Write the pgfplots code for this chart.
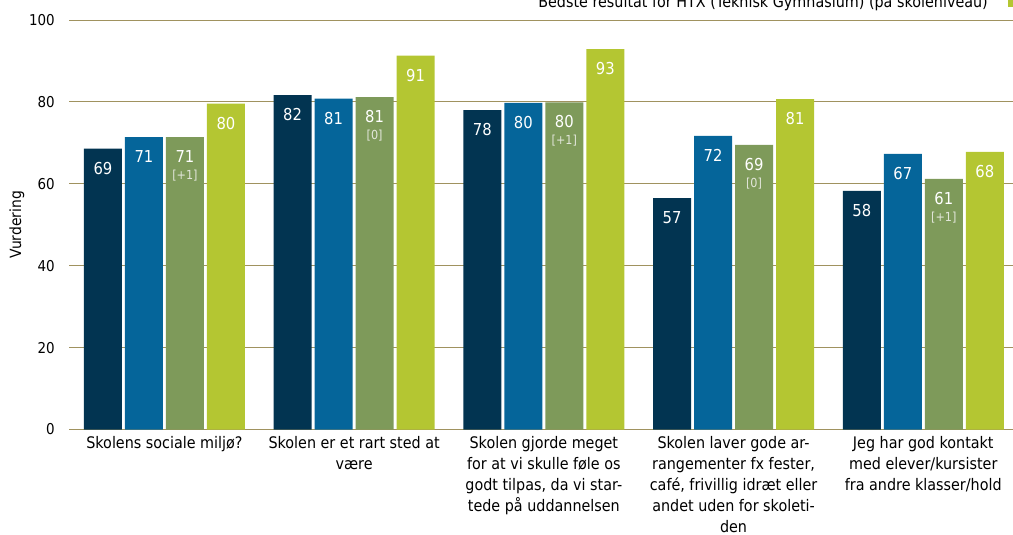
\documentclass[border=0pt]{standalone}
\usepackage{pgfplots}
\pgfplotsset{compat=1.18}
\usepackage{pgfplotstable}
\usepackage{fontspec}
\setmainfont{DejaVu Sans}[FakeStretch=0.9]

\definecolor{cA}{HTML}{023451}
\definecolor{cB}{HTML}{05659A}
\definecolor{cC}{HTML}{7E9A5A}
\definecolor{cD}{HTML}{B4C632}
\definecolor{gridc}{HTML}{A0925F}
\definecolor{chgc}{HTML}{E2E6DA}

% second line under a value: change since last time
\newcommand\chg[1]{\\\relax{\fontsize{12.5}{14}\selectfont\color{chgc}[#1]}}

\pgfplotstableread{
x y lab
0 68.6 69
1 81.7 82
2 78.0 78
3 56.5 57
4 58.3 58
}\tA
\pgfplotstableread{
x y lab
0 71.4 71
1 80.8 81
2 79.8 80
3 71.7 72
4 67.3 67
}\tB
\pgfplotstableread{
x y lab
0 71.4 {71\chg{+1}}
1 81.2 {81\chg{0}}
2 79.9 {80\chg{+1}}
3 69.5 {69\chg{0}}
4 61.2 {61\chg{+1}}
}\tC
\pgfplotstableread{
x y lab
0 79.6 80
1 91.3 91
2 92.9 93
3 80.7 81
4 67.8 68
}\tD

\begin{document}
\begin{tikzpicture}
\begin{axis}[
    scale only axis,
    width=944bp, height=409.4bp,
    ybar=3bp, bar width=38bp,
    xmin=-0.503, xmax=4.473,
    ymin=0, ymax=100,
    ytick={0,20,...,100},
    xtick={0,...,4},
    xticklabels={
      {Skolens sociale miljø?},
      {Skolen er et rart sted at\\være},
      {Skolen gjorde meget\\for at vi skulle føle os\\godt tilpas, da vi star-\\tede på uddannelsen},
      {Skolen laver gode ar-\\rangementer fx fester,\\café, frivillig idræt eller\\andet uden for skoleti-\\den},
      {Jeg har god kontakt\\med elever/kursister\\fra andre klasser/hold}},
    axis line style={draw=none},
    major tick length=0pt,
    ymajorgrids,
    grid style={gridc, line width=1bp},
    /pgf/number format/assume math mode=true,
    yticklabel style={font=\fontsize{15}{18}\selectfont, inner sep=0pt},
    yticklabel shift=14bp,
    xticklabel style={font=\fontsize{16}{21}\selectfont, align=center, inner sep=0pt},
    xticklabel shift=7bp,
    ylabel={Vurdering},
    ylabel style={font=\fontsize{15.5}{18}\selectfont, at={(axis description cs:-0.0551,0.5)}, anchor=center},
    point meta=explicit symbolic,
    nodes near coords,
    every node near coord/.append style={font=\fontsize{16.5}{17}\selectfont, text=white, align=center, anchor=north, yshift=-12bp, inner sep=1bp},
    legend plot pos=right,
    legend style={draw=none, fill=none, font=\fontsize{16}{18}\selectfont,
      at={(axis description cs:1.0095,1.046)}, anchor=east},
    legend image code/.code={\path (0bp,0bp); \fill[#1, draw=none] (18bp,-6bp) rectangle (29bp,6bp);},
  ]
  \addplot[fill=cA, draw=none] table[x=x, y=y, meta=lab] {\tA};
  \addplot[fill=cB, draw=none] table[x=x, y=y, meta=lab] {\tB};
  \addplot[fill=cC, draw=none] table[x=x, y=y, meta=lab] {\tC};
  \addplot[fill=cD, draw=none] table[x=x, y=y, meta=lab] {\tD};
  \legend{,,,{Bedste resultat for HTX (Teknisk Gymnasium) (på skoleniveau)}}
\end{axis}
\pgfresetboundingbox
\useasboundingbox (-69bp,-105.5bp) rectangle (944bp,429.5bp);
\end{tikzpicture}
\end{document}
